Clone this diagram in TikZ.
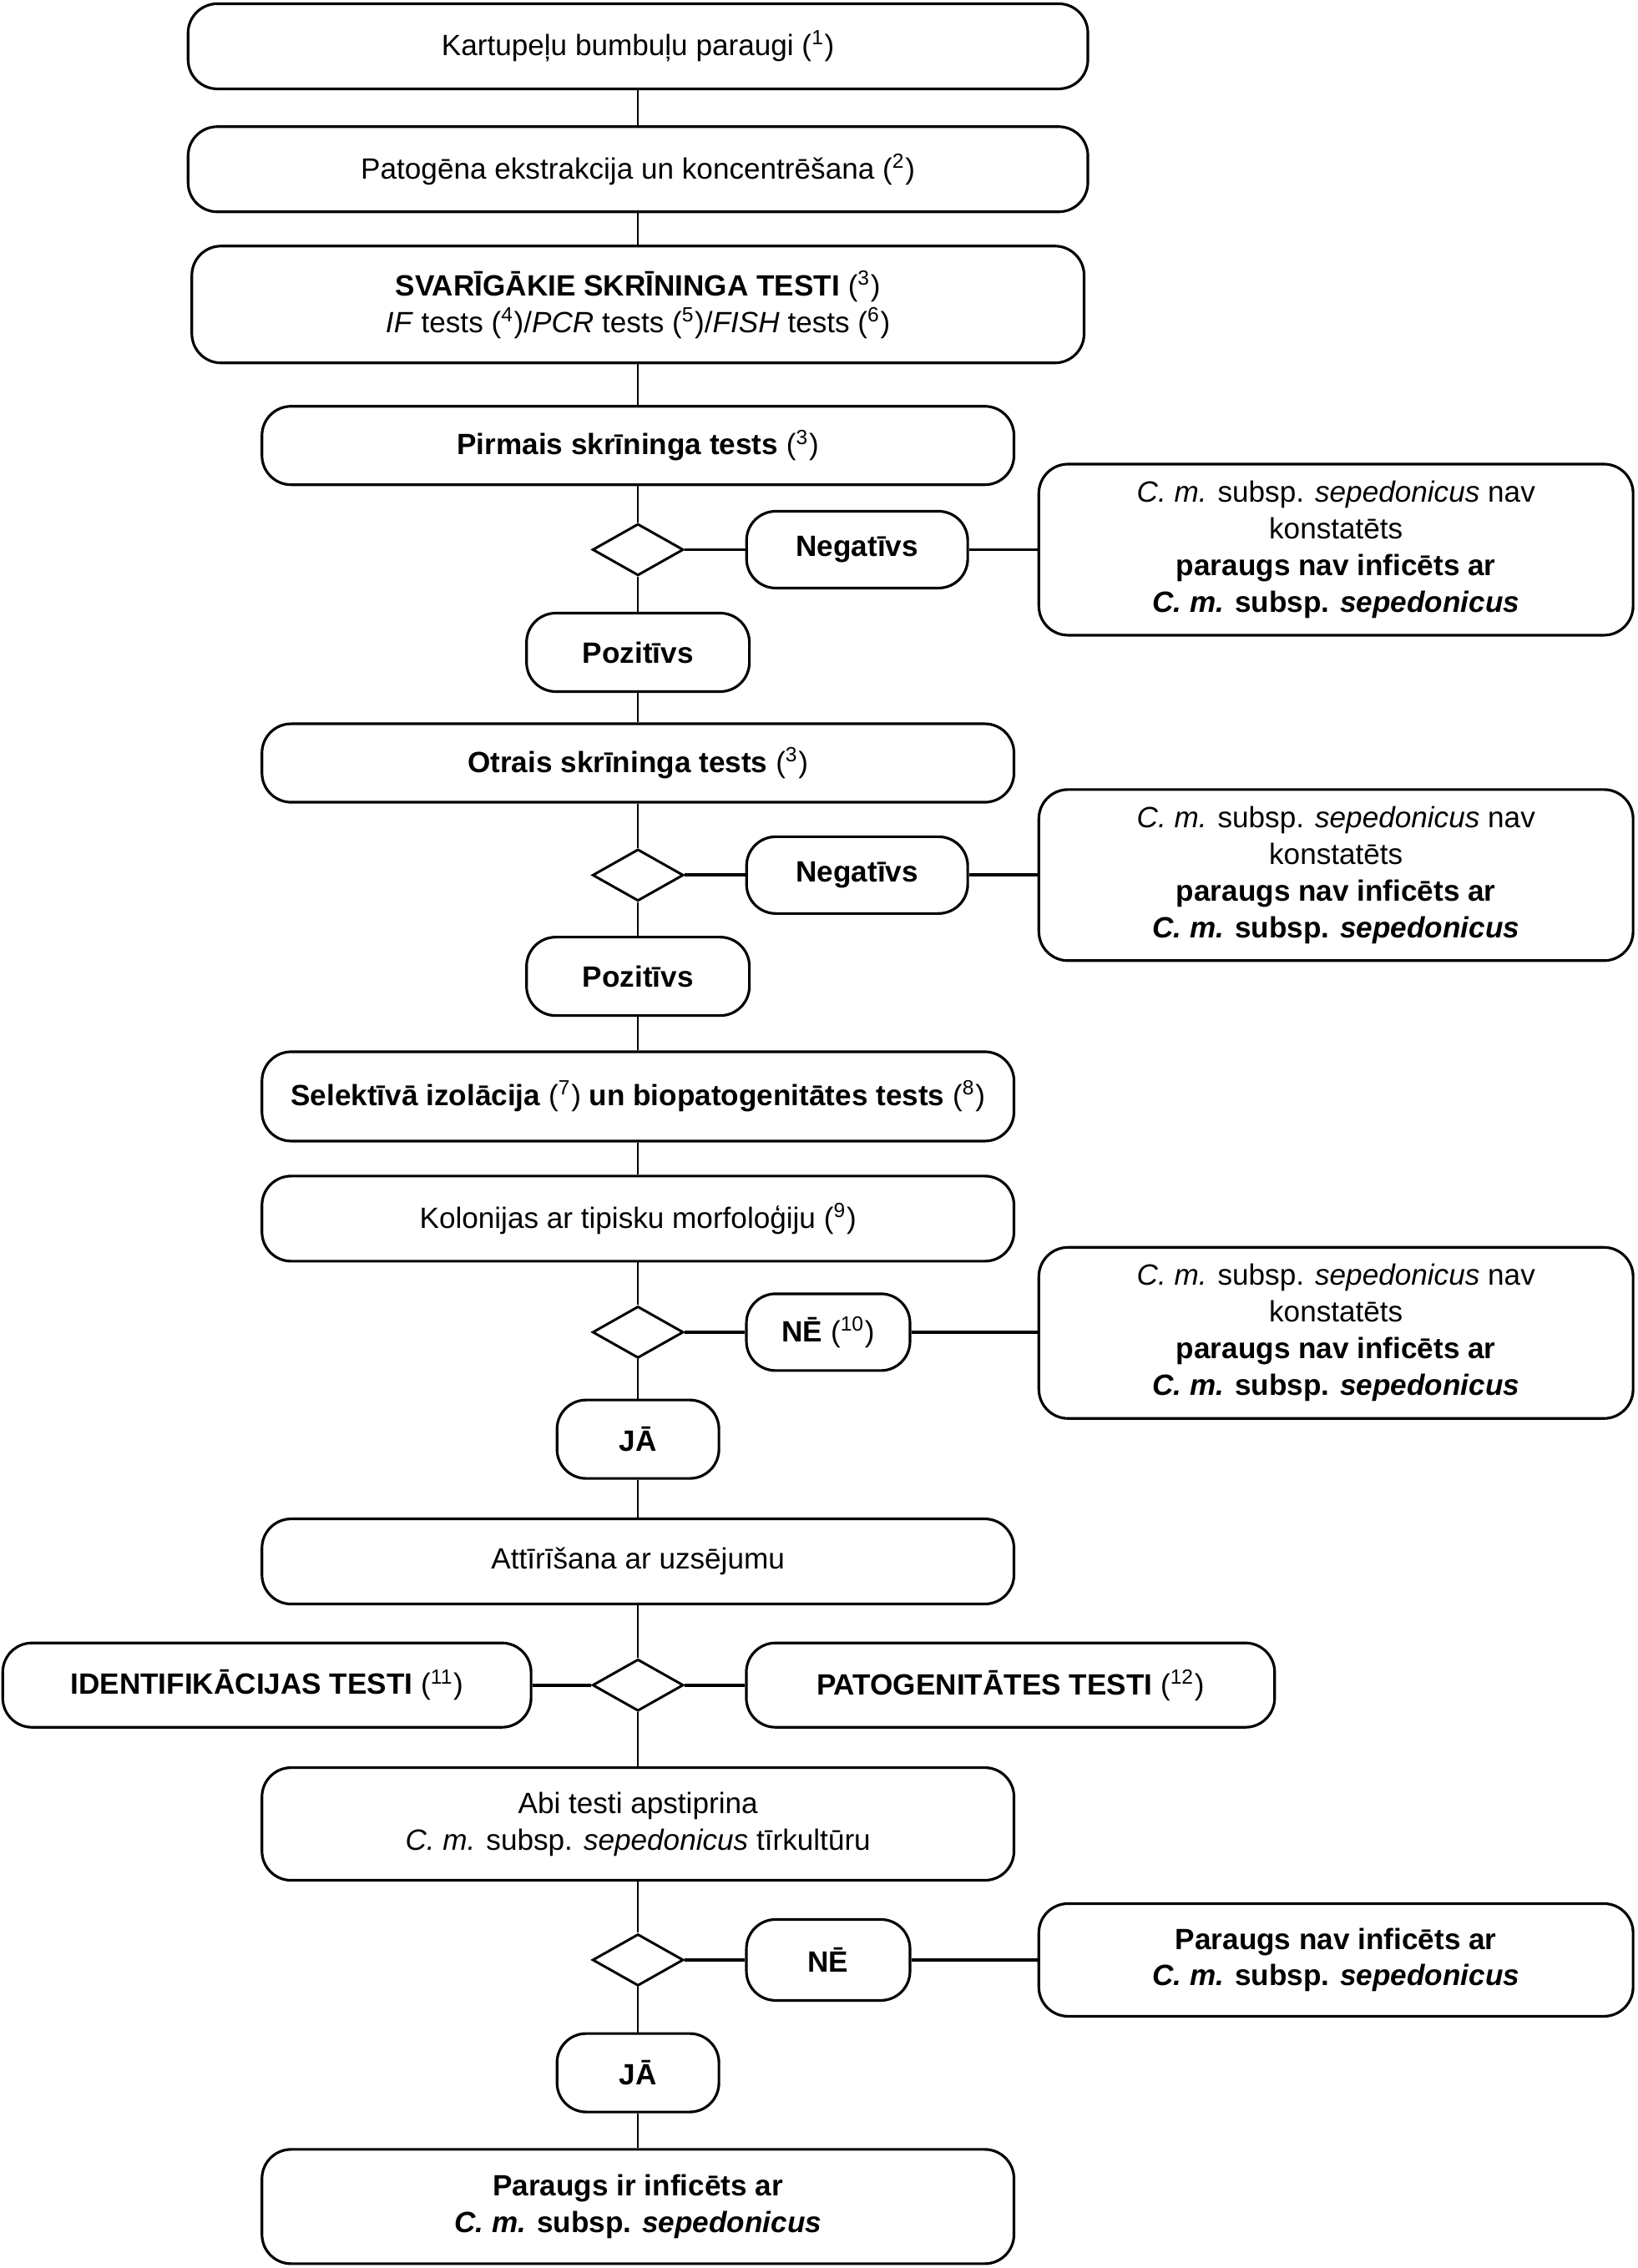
\documentclass[tikz,border=0pt]{standalone}
\usepackage{fontspec}
\setmainfont{Liberation Sans}
\usetikzlibrary{shapes.geometric, positioning}

\newcommand{\fnote}[1]{\textnormal{(\textsuperscript{#1})}}
\newcommand{\cms}{\textit{C. m.} subsp. \textit{sepedonicus}}

\begin{document}
\begin{tikzpicture}[
    x=0.17332mm, y=-0.17332mm,
    box/.style={draw, line width=0.9pt, rounded corners=3.5mm, align=center, inner sep=2pt, font=\fontsize{10}{12.5}\selectfont},
    wide/.style={box, minimum width=107.8mm, minimum height=10.2mm},
    mid/.style={box, minimum width=90.1mm, minimum height=9.4mm},
    res/.style={box, minimum width=71.2mm, minimum height=20.5mm},
    lab/.style={box, minimum height=9.2mm, font=\bfseries},
    side/.style={box, minimum width=63.3mm, minimum height=10.1mm, font=\bfseries},
    dec/.style={draw, diamond, line width=0.85pt, minimum width=10.9mm, minimum height=6.2mm, inner sep=0pt},
    vl/.style={line width=0.6pt},
    hl/.style={line width=1.1pt},
]
\useasboundingbox (0,0) rectangle (1132,1568);

\node[wide] (samples) at (441, 32) {Kartupeļu bumbuļu paraugi \fnote{1}};
\node[wide] (extract) at (441, 117) {Patogēna ekstrakcija un koncentrēšana \fnote{2}};
\node[wide, minimum width=106.9mm, minimum height=14mm] (screen) at (441, 210.5)
    {\textbf{SVARĪGĀKIE SKRĪNINGA TESTI} \fnote{3}\\\textit{IF} tests \fnote{4}/\textit{PCR} tests \fnote{5}/\textit{FISH} tests \fnote{6}};

\node[mid, font=\bfseries] (first) at (441, 308) {Pirmais skrīninga tests \fnote{3}};
\node[dec] (d1) at (441, 380) {};
\node[lab, minimum width=26.5mm] (neg1) at (592.5, 380) {Negatīvs};
\node[res] (res1) at (923.5, 380)
    {\textit{C. m.} subsp. \textit{sepedonicus} nav\\konstatēts\\\textbf{paraugs nav inficēts ar}\\\textbf{\cms}};
\node[lab, minimum width=26.7mm, minimum height=9.4mm] (pos1) at (441, 451) {Pozitīvs};

\node[mid, font=\bfseries] (second) at (441, 527.5) {Otrais skrīninga tests \fnote{3}};
\node[dec] (d2) at (441, 605) {};
\node[lab, minimum width=26.5mm] (neg2) at (592.5, 605) {Negatīvs};
\node[res] (res2) at (923.5, 605)
    {\textit{C. m.} subsp. \textit{sepedonicus} nav\\konstatēts\\\textbf{paraugs nav inficēts ar}\\\textbf{\cms}};
\node[lab, minimum width=26.7mm, minimum height=9.4mm] (pos2) at (441, 675) {Pozitīvs};

\node[mid, font=\bfseries, minimum height=10.7mm] (isol) at (441, 758)
    {Selektīvā izolācija \fnote{7} un biopatogenitātes tests \fnote{8}};
\node[mid, minimum height=10.2mm] (colon) at (441, 842.5) {Kolonijas ar tipisku morfoloģiju \fnote{9}};
\node[dec] (d3) at (441, 921) {};
\node[lab, minimum width=19.6mm] (no1) at (572.5, 921) {NĒ \fnote{10}};
\node[res] (res3) at (923.5, 921.5)
    {\textit{C. m.} subsp. \textit{sepedonicus} nav\\konstatēts\\\textbf{paraugs nav inficēts ar}\\\textbf{\cms}};
\node[lab, minimum width=19.4mm, minimum height=9.4mm] (yes1) at (441, 995) {JĀ};

\node[mid, minimum height=10.2mm] (purif) at (441, 1079.5) {Attīrīšana ar uzsējumu};
\node[dec] (d4) at (441, 1165) {};
\node[side] (ident) at (184.5, 1165) {IDENTIFIKĀCIJAS TESTI \fnote{11}};
\node[side] (patho) at (698.5, 1165) {PATOGENITĀTES TESTI \fnote{12}};

\node[mid, minimum height=13.5mm] (both) at (441, 1261) {Abi testi apstiprina\\\cms{} tīrkultūru};
\node[dec] (d5) at (441, 1355) {};
\node[lab, minimum width=19.6mm, minimum height=9.7mm] (no2) at (572.5, 1355) {NĒ};
\node[res, minimum height=13.5mm] (res4) at (923.5, 1355) {\textbf{Paraugs nav inficēts ar}\\\textbf{\cms}};
\node[lab, minimum width=19.4mm, minimum height=9.4mm] (yes2) at (441, 1433) {JĀ};
\node[mid, minimum height=13.7mm] (final) at (441, 1525.5) {\textbf{Paraugs ir inficēts ar}\\\textbf{\cms}};

\draw[vl] (samples) -- (extract);
\draw[vl] (extract) -- (screen);
\draw[vl] (screen) -- (first);
\draw[vl] (first) -- (d1);
\draw[vl] (d1) -- (pos1);
\draw[vl] (pos1) -- (second);
\draw[vl] (second) -- (d2);
\draw[vl] (d2) -- (pos2);
\draw[vl] (pos2) -- (isol);
\draw[vl] (isol) -- (colon);
\draw[vl] (colon) -- (d3);
\draw[vl] (d3) -- (yes1);
\draw[vl] (yes1) -- (purif);
\draw[vl] (purif) -- (d4);
\draw[vl] (d4) -- (both);
\draw[vl] (both) -- (d5);
\draw[vl] (d5) -- (yes2);
\draw[vl] (yes2) -- (final);

\draw[hl] (d1) -- (neg1);
\draw[hl] (neg1) -- (res1);
\draw[hl] (d2) -- (neg2);
\draw[hl] (neg2) -- (res2);
\draw[hl] (d3) -- (no1);
\draw[hl] (no1) -- (res3.west |- no1);
\draw[hl] (d4) -- (ident);
\draw[hl] (d4) -- (patho);
\draw[hl] (d5) -- (no2);
\draw[hl] (no2) -- (res4);

\end{tikzpicture}
\end{document}
